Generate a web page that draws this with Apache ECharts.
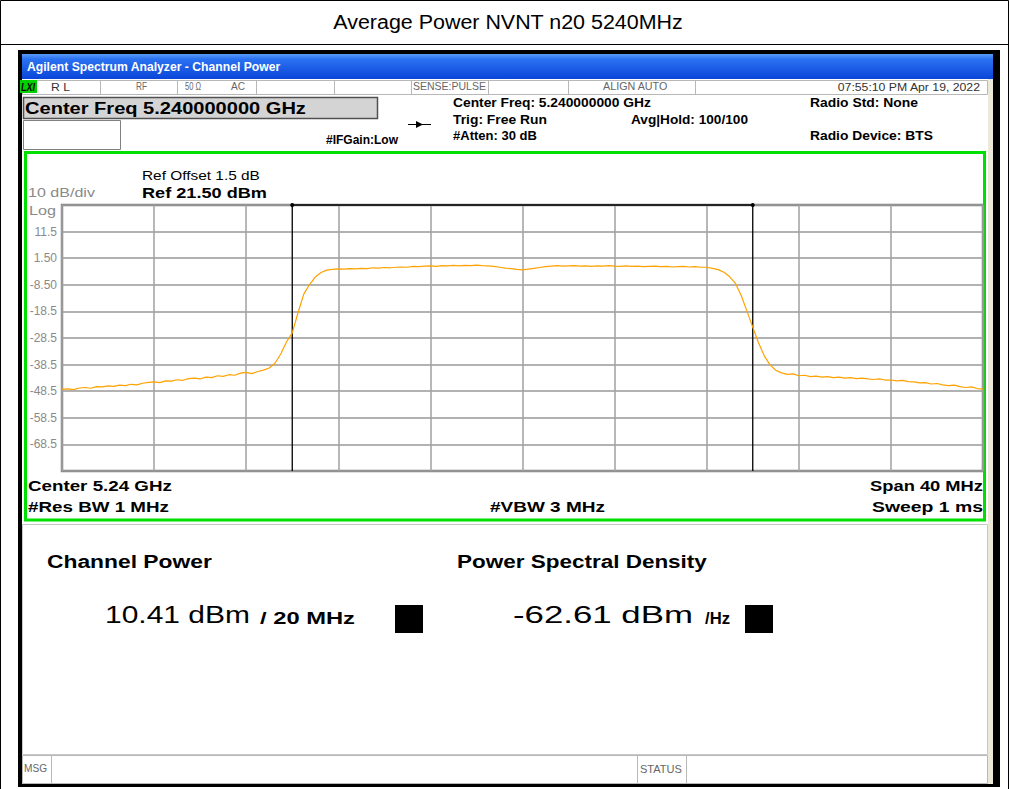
<!DOCTYPE html>
<html>
<head>
<meta charset="utf-8">
<title>Average Power NVNT n20 5240MHz</title>
<script src="https://cdn.jsdelivr.net/npm/echarts@6.0.0/dist/echarts.min.js"></script>
<style>
  html, body { margin: 0; padding: 0; background: #fff; }
  #chart { width: 1010px; height: 789px; }
</style>
</head>
<body>
<div id="chart"></div>
<script>
// sweep: offset from 5.24 GHz in MHz, one reading every 0.25 MHz
const startOffset = -20;
const stepMHz = 0.25;
const traceDbm = [
  -47.8, -47.6, -47.9, -47.3,
  -47.1, -47.4, -46.8, -46.9,
  -46.5, -46.7, -46.2, -46.4,
  -45.9, -46.1, -45.5, -45.2,
  -45.0, -45.3, -44.6, -44.7,
  -44.2, -44.4, -43.8, -43.6,
  -43.9, -43.2, -43.4, -42.7,
  -42.9, -42.3, -42.5, -41.7,
  -41.4, -41.9, -41.1, -40.6,
  -39.8, -38.0, -34.5, -30.0,
  -26.6, -19.0, -12.0, -8.4,
  -5.6, -3.9, -3.0, -2.7,
  -2.5, -2.6, -2.4, -2.5,
  -2.3, -2.4, -2.1, -2.2,
  -2.0, -2.1, -1.9, -1.8,
  -1.9, -1.6, -1.7, -1.5,
  -1.4, -1.6, -1.3, -1.4,
  -1.2, -1.4, -1.2, -1.3,
  -1.1, -1.3, -1.4, -1.6,
  -1.9, -2.2, -2.4, -2.7,
  -2.9, -2.6, -2.3, -2.0,
  -1.7, -1.5, -1.3, -1.5,
  -1.4, -1.3, -1.5, -1.4,
  -1.6, -1.4, -1.5, -1.3,
  -1.5, -1.6, -1.4, -1.6,
  -1.5, -1.7, -1.6, -1.5,
  -1.7, -1.6, -1.8, -1.7,
  -1.6, -1.8, -1.7, -1.9,
  -1.9, -2.3, -2.8, -3.8,
  -5.5, -8.0, -12.5, -18.5,
  -24.4, -30.3, -35.2, -38.6,
  -40.6, -41.6, -42.2, -42.0,
  -42.7, -42.5, -43.0, -42.8,
  -43.2, -43.0, -43.4, -43.2,
  -43.6, -43.4, -43.8, -43.6,
  -43.9, -44.1, -43.9, -44.3,
  -44.3, -44.6, -44.4, -44.9,
  -45.0, -45.4, -45.3, -45.8,
  -45.6, -46.1, -46.4, -46.2,
  -46.8, -47.1, -46.9, -47.5,
  -47.7
];
// top to bottom, one per division line
const yTickLabels = ['', '11.5', '1.50', '-8.50', '-18.5', '-28.5', '-38.5', '-48.5', '-58.5', '-68.5', ''];
const refLevel = 21.5;
const bottomLevel = -78.5;
const channelEdges = [-10, 10];

const chart = echarts.init(document.getElementById('chart'), null, { renderer: 'svg' });

// text helper: stretch to the measured width of the original when w is given
const measureCtx = document.createElement('canvas').getContext('2d');
function label(text, x, y, size, opts = {}) {
  const weight = opts.bold ? 'bold' : 'normal';
  const style = opts.italic ? 'italic' : 'normal';
  const family = opts.family || 'Liberation Sans';
  let sx = 1;
  if (opts.w) {
    measureCtx.font = `${style} ${weight} ${size}px "${family}"`;
    sx = opts.w / measureCtx.measureText(text).width;
  }
  return {
    type: 'text', x, y, scaleX: sx, silent: true, z: 100,
    style: {
      text, x: 0, y: 0,
      fill: opts.color || '#000',
      fontSize: size, fontWeight: weight, fontStyle: style, fontFamily: family,
      align: opts.align || 'left', verticalAlign: 'middle'
    }
  };
}
function box(x, y, w, h, fill, stroke, lw) {
  return {
    type: 'rect', silent: true, z: 1,
    shape: { x, y, width: w, height: h },
    style: { fill: fill || 'none', stroke: stroke || 'none', lineWidth: lw || 1 }
  };
}
function seg(x1, y1, x2, y2, color, lw) {
  return {
    type: 'line', silent: true, z: 2,
    shape: { x1, y1, x2, y2 },
    style: { stroke: color, lineWidth: lw || 1 }
  };
}

const gray = '#666';
const graphics = [
  // page table
  box(0.5, 0.5, 1008, 44, 'none', '#000'),
  seg(0.5, 44, 0.5, 789, '#000'),
  seg(1008.5, 44, 1008.5, 789, '#000'),
  label('Average Power NVNT n20 5240MHz', 508, 22, 20, { align: 'center', w: 350 }),

  // analyzer window
  box(18, 50, 982, 737, '#000'),
  {
    type: 'rect', silent: true, z: 1,
    shape: { x: 22, y: 54, width: 971, height: 25 },
    style: {
      fill: new echarts.graphic.LinearGradient(0, 0, 0, 1, [
        { offset: 0, color: '#5a9cf8' },
        { offset: 0.2, color: '#2b72f2' },
        { offset: 1, color: '#0a45d8' }
      ])
    }
  },
  label('Agilent Spectrum Analyzer - Channel Power', 27, 67, 12, { bold: true, color: '#fff', w: 254 }),
  box(22, 79, 966, 705, '#fff'),
  box(988, 79, 5, 705, '#ece9d8'),

  // status row
  box(22.5, 80.5, 965, 14, '#fff', '#b8b8b8'),
  seg(100.5, 80, 100.5, 94, '#b8b8b8'),
  seg(177.5, 80, 177.5, 94, '#b8b8b8'),
  seg(256.5, 80, 256.5, 94, '#b8b8b8'),
  seg(334.5, 80, 334.5, 94, '#b8b8b8'),
  seg(411.5, 80, 411.5, 94, '#b8b8b8'),
  seg(488.5, 80, 488.5, 94, '#b8b8b8'),
  seg(568.5, 80, 568.5, 94, '#b8b8b8'),
  seg(695.5, 80, 695.5, 94, '#b8b8b8'),
  box(20, 80, 17, 13, '#00d000'),
  label('LXI', 21, 87, 10, { bold: true, italic: true, w: 14 }),
  label('R L', 51, 87, 10, { color: '#333', w: 19 }),
  label('RF', 136, 87, 10, { color: gray, w: 11 }),
  label('50 Ω', 185, 87, 10, { color: gray, w: 16 }),
  label('AC', 231, 87, 10, { color: gray, w: 14 }),
  label('SENSE:PULSE', 413, 87, 10, { color: gray, w: 73 }),
  label('ALIGN AUTO', 603, 87, 10, { color: gray, w: 65 }),
  label('07:55:10 PM Apr 19, 2022', 980, 87, 10, { color: '#333', align: 'right', w: 143 }),

  // settings block
  box(23.5, 97.5, 354, 21, '#d4d4d4', '#505050', 1.5),
  label('Center Freq 5.240000000 GHz', 25, 108, 16.5, { bold: true, w: 281 }),
  box(23.5, 120.5, 97, 29, '#fff', '#808080'),
  label('#IFGain:Low', 326, 140, 12, { bold: true, w: 72 }),
  seg(408, 124.5, 431, 124.5, '#000'),
  {
    type: 'polygon', silent: true, z: 2,
    shape: { points: [[416, 121], [416, 128], [423, 124.5]] },
    style: { fill: '#000' }
  },
  label('Center Freq: 5.240000000 GHz', 453, 103, 12.5, { bold: true, w: 198 }),
  label('Trig: Free Run', 453, 119.5, 12.5, { bold: true, w: 94 }),
  label('#Atten: 30 dB', 453, 136, 12.5, { bold: true, w: 84 }),
  label('Avg|Hold: 100/100', 631, 119.5, 12.5, { bold: true, w: 117 }),
  label('Radio Std: None', 810, 103, 12.5, { bold: true, w: 108 }),
  label('Radio Device: BTS', 810, 136, 12.5, { bold: true, w: 123 }),

  // trace window
  box(25.5, 152.5, 959, 367.5, 'none', '#00e000', 3),
  label('Ref Offset 1.5 dB', 142, 176, 12.5, { w: 118 }),
  label('Ref 21.50 dBm', 142, 193, 15.5, { bold: true, w: 125 }),
  label('10 dB/div', 28, 193, 13, { color: '#8a8a8a', w: 67 }),
  label('Log', 29, 211, 13, { color: '#8a8a8a', w: 27 }),
  label('Center 5.24 GHz', 28, 486, 15.5, { bold: true, w: 144 }),
  label('#Res BW 1 MHz', 28, 507, 15.5, { bold: true, w: 141 }),
  label('#VBW 3 MHz', 490, 507, 15.5, { bold: true, w: 115 }),
  label('Span 40 MHz', 983, 486, 15.5, { bold: true, align: 'right', w: 113 }),
  label('Sweep 1 ms', 983, 507, 15.5, { bold: true, align: 'right', w: 111 }),

  // results panel
  box(22.5, 524.5, 965, 230, '#fff', '#c8c8c8'),
  label('Channel Power', 47, 561, 18.5, { bold: true, w: 165 }),
  label('Power Spectral Density', 457, 561, 18.5, { bold: true, w: 250 }),
  label('10.41 dBm', 105, 615, 24, { w: 145 }),
  label('/ 20 MHz', 260, 618, 16, { bold: true, w: 95 }),
  box(395, 605, 28, 28, '#000'),
  label('-62.61 dBm', 513, 615, 24, { w: 180 }),
  label('/Hz', 705, 618, 16, { bold: true, w: 25 }),
  box(745, 605, 28, 28, '#000'),

  // message bar
  box(22.5, 755.5, 965, 28, '#fff', '#b8b8b8'),
  seg(51.5, 755, 51.5, 784, '#b8b8b8'),
  seg(637.5, 755, 637.5, 784, '#b8b8b8'),
  seg(686.5, 755, 686.5, 784, '#b8b8b8'),
  label('MSG', 24, 769, 10, { color: gray, w: 23 }),
  label('STATUS', 640, 769, 10, { color: gray, w: 42 })
];

// channel bracket: up the lower edge, across the reference line, down the upper edge
const bracketData = [
  { value: [channelEdges[0], bottomLevel], symbol: 'none' },
  { value: [channelEdges[0], refLevel] },
  { value: [channelEdges[1], refLevel] },
  { value: [channelEdges[1], bottomLevel], symbol: 'none' }
];

chart.setOption({
  animation: false,
  graphic: graphics,
  grid: {
    left: 62, top: 205, right: 27, bottom: 318,
    show: true, borderColor: '#808080', borderWidth: 2.5,
    backgroundColor: '#fff', z: 10
  },
  xAxis: {
    type: 'value', min: -20, max: 20, interval: 4,
    axisLine: { show: false }, axisTick: { show: false }, axisLabel: { show: false },
    splitLine: { show: true, lineStyle: { color: '#a0a0a0', width: 1.5 } },
    z: 10
  },
  yAxis: {
    type: 'value', min: bottomLevel, max: refLevel, interval: 10,
    axisLine: { show: false }, axisTick: { show: false },
    axisLabel: {
      margin: 5, color: '#8a8a8a', fontSize: 12, fontFamily: 'Liberation Sans',
      formatter: (v) => yTickLabels[Math.round((refLevel - v) / 10)] || ''
    },
    splitLine: { show: true, lineStyle: { color: '#999', width: 1.5 } },
    z: 10
  },
  series: [
    {
      type: 'line',
      data: bracketData,
      symbol: 'circle',
      symbolSize: 4,
      showSymbol: true,
      clip: false,
      itemStyle: { color: '#000' },
      lineStyle: { color: '#000', width: 1.3 },
      emphasis: { disabled: true },
      silent: true,
      z: 15
    },
    {
      type: 'line',
      data: traceDbm.map((v, i) => [startOffset + i * stepMHz, v]),
      showSymbol: false,
      lineStyle: { color: '#ffa200', width: 1.2 },
      emphasis: { disabled: true },
      silent: true,
      z: 20
    }
  ]
});
</script>
</body>
</html>
